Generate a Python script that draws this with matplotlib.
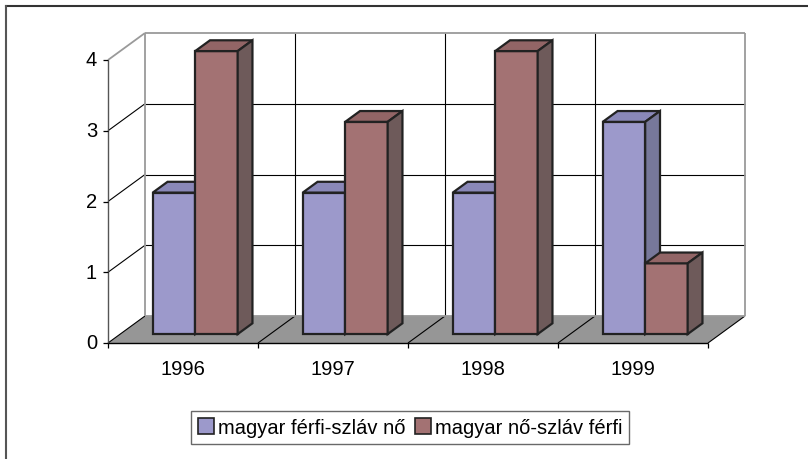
import matplotlib
matplotlib.use("Agg")
import matplotlib.pyplot as plt
from matplotlib.patches import Polygon, Patch
from matplotlib.lines import Line2D

# ---- data ----
categories = ["1996", "1997", "1998", "1999"]
series_names = ["magyar férfi-szláv nő", "magyar nő-szláv férfi"]
series1 = [2, 2, 2, 3]
series2 = [4, 3, 4, 1]
y_ticks = [0, 1, 2, 3, 4]

# ---- style ----
front_colors = ["#9c99cb", "#a37273"]
top_colors = ["#8a88b8", "#926566"]
side_colors = ["#77789a", "#6e5a5a"]
floor_color = "#969696"
wall_edge = "#9a9a9a"

plt.rcParams["font.family"] = ["Liberation Sans", "DejaVu Sans"]

W, H = 808, 460
fig = plt.figure(figsize=(W / 100, H / 100), dpi=100)
ax = fig.add_axes([108 / W, 116 / H, 600 / W, 283 / H])
ncat = len(categories)
ymax = y_ticks[-1]
ax.set_xlim(0, ncat)
ax.set_ylim(0, ymax)
ax.axis("off")

# depth offsets (data units per unit depth)
DX = 37 / 150.0
DY = 27 / (283 / ymax)


def P(x, y, d):
    return (x + d * DX, y + d * DY)


def poly(pts, fc, ec="none", lw=0.0, z=1):
    ax.add_patch(Polygon(pts, closed=True, facecolor=fc, edgecolor=ec,
                         linewidth=lw, clip_on=False, zorder=z, joinstyle="miter"))


def line(p, q, color, lw, z=2):
    ax.add_line(Line2D([p[0], q[0]], [p[1], q[1]], color=color, linewidth=lw,
                       clip_on=False, zorder=z, solid_capstyle="butt"))


# floor
poly([P(0, 0, 0), P(ncat, 0, 0), P(ncat, 0, 1), P(0, 0, 1)], floor_color, z=1)

# back wall gridlines
for v in y_ticks[1:-1]:
    line(P(0, v, 1), P(ncat, v, 1), "black", 0.8)
    line(P(0, v, 0), P(0, v, 1), "black", 0.8)
for c in range(1, ncat):
    line(P(c, 0, 1), P(c, ymax, 1), "black", 0.8)
# floor diagonals
for c in range(0, ncat + 1):
    line(P(c, 0, 0), P(c, 0, 1), "black", 0.8, z=2)

# wall border
line(P(0, 0, 1), P(0, ymax, 1), wall_edge, 1.3)
line(P(0, ymax, 1), P(ncat, ymax, 1), wall_edge, 1.3)
line(P(ncat, 0, 1), P(ncat, ymax, 1), wall_edge, 1.3)
line(P(0, 0, 1), P(ncat, 0, 1), wall_edge, 1.3)
line(P(0, ymax, 0), P(0, ymax, 1), wall_edge, 1.3)

# front axes
line(P(0, 0, 0), P(0, ymax, 0), "#555555", 1.0, z=3)
line(P(0, 0, 0), P(ncat, 0, 0), "black", 1.0, z=3)
tick_x = 5 / 150.0
tick_y = 5 / (283 / ymax)
for v in y_ticks:
    line((0, v), (-tick_x, v), "black", 0.9, z=3)
    ax.text(-tick_x - 0.04, v, str(v), ha="right", va="center", fontsize=14.5,
            color="black")
for c in range(0, ncat + 1):
    line((c, 0), (c, -tick_y), "black", 0.9, z=3)
for i, cat in enumerate(categories):
    ax.text(i + 0.5, -0.22, cat, ha="center", va="top", fontsize=14.5,
            color="black")

# bars
bw = 0.283
d0, d1 = 0.33, 0.73
edge_lw = 1.6
for i in range(ncat):
    for s, vals in enumerate([series1, series2]):
        v = vals[i]
        x0 = i + 0.5 - bw + s * bw
        x1 = x0 + bw
        z = 5 + s
        # front
        poly([P(x0, 0, d0), P(x1, 0, d0), P(x1, v, d0), P(x0, v, d0)],
             front_colors[s], "#222222", edge_lw, z)
        # top
        poly([P(x0, v, d0), P(x1, v, d0), P(x1, v, d1), P(x0, v, d1)],
             top_colors[s], "#222222", edge_lw, z)
        # side
        poly([P(x1, 0, d0), P(x1, 0, d1), P(x1, v, d1), P(x1, v, d0)],
             side_colors[s], "#222222", edge_lw, z)

# legend
handles = [Patch(facecolor=front_colors[k], edgecolor="#222222", linewidth=1.2)
           for k in range(2)]
leg = fig.legend(handles, series_names, loc="center",
                 bbox_to_anchor=(410 / W, 1 - 428.5 / H), ncol=2,
                 frameon=True, fancybox=False, fontsize=14.5,
                 handlelength=0.8, handleheight=0.8, handletextpad=0.2,
                 columnspacing=0.45, borderpad=0.35, borderaxespad=0)
leg.get_frame().set_edgecolor("#444444")
leg.get_frame().set_linewidth(1.0)

# figure border (top and left visible)
fig.add_artist(Line2D([6 / W, 1.0], [1 - 7 / H, 1 - 7 / H], transform=fig.transFigure,
                      color="#333333", linewidth=1.5))
fig.add_artist(Line2D([6 / W, 6 / W], [1 - 7 / H, 0.0], transform=fig.transFigure,
                      color="#555555", linewidth=1.5))

fig.savefig("out.png", dpi=100, facecolor="white")
